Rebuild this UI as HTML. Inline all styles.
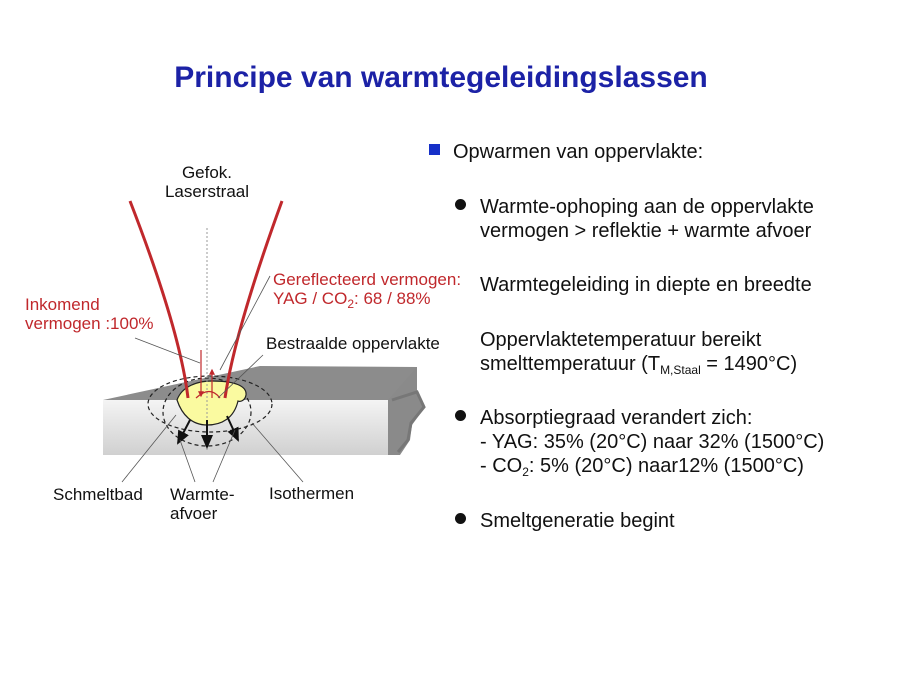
<!DOCTYPE html>
<html><head><meta charset="utf-8"><style>
body{margin:0;width:900px;height:673px;background:#fff;position:relative;overflow:hidden;font-family:"Liberation Sans",Arial,sans-serif}
.t{position:absolute;white-space:nowrap;color:#111}
.r{font-size:20px;line-height:24px}
.s{font-size:17px;line-height:19px}
.red{color:#c0282c}
sub{font-size:12px;vertical-align:-4px;line-height:0}
.dot{position:absolute;width:11px;height:11px;border-radius:50%;background:#111}
</style></head><body>
<div class="t" style="left:0;width:882px;text-align:center;top:61px;font-size:30px;font-weight:bold;color:#1c22a6">Principe van warmtegeleidingslassen</div>

<div style="position:absolute;left:429px;top:144px;width:11px;height:11px;background:#1630c8"></div>
<div class="t r" style="left:453px;top:140px">Opwarmen van oppervlakte:</div>
<div class="dot" style="left:455px;top:199px"></div>
<div class="t r" style="left:480px;top:195px">Warmte-ophoping aan de oppervlakte<br>vermogen &gt; reflektie + warmte afvoer</div>
<div class="t r" style="left:480px;top:273px">Warmtegeleiding in diepte en breedte</div>
<div class="t r" style="left:480px;top:328px">Oppervlaktetemperatuur bereikt<br>smelttemperatuur (T<sub>M,Staal</sub> = 1490°C)</div>
<div class="dot" style="left:455px;top:410px"></div>
<div class="t r" style="left:480px;top:406px">Absorptiegraad verandert zich:<br>- YAG: 35% (20°C) naar 32% (1500°C)<br>- CO<sub>2</sub>: 5% (20°C) naar12% (1500°C)</div>
<div class="dot" style="left:455px;top:513px"></div>
<div class="t r" style="left:480px;top:509px">Smeltgeneratie begint</div>

<svg style="position:absolute;left:0;top:0" width="900" height="673">
<defs>
<linearGradient id="g" x1="0" y1="0" x2="0" y2="1"><stop offset="0" stop-color="#f4f4f4"/><stop offset="1" stop-color="#d0d0d0"/></linearGradient>
<marker id="a" markerWidth="8" markerHeight="8" refX="6" refY="4" orient="auto"><path d="M0,1 L7,4 L0,7z" fill="#111"/></marker>
<marker id="ar" markerWidth="6" markerHeight="6" refX="4" refY="3" orient="auto"><path d="M0,0.5 L5,3 L0,5.5z" fill="#c0282c"/></marker>
</defs>
<polygon points="103,400 260,366 417,367 417,400" fill="#8c8c8c"/>
<polygon points="103,400 388,400 388,455 103,455" fill="url(#g)"/>
<polygon points="388,400 417,367 417,395 425,407 412,425 410,440 400,455 388,455" fill="#8a8a8a"/>
<polyline points="392,400 417,392 424,407 411,423 408,440 398,452" fill="none" stroke="#777" stroke-width="3"/>
<ellipse cx="210" cy="404" rx="62" ry="28" fill="none" stroke="#222" stroke-dasharray="4,3" stroke-width="1.2"/>
<ellipse cx="207" cy="412" rx="44" ry="34" fill="none" stroke="#222" stroke-dasharray="4,3" stroke-width="1.2"/>
<path d="M177,400 C182,386 198,381 212,381 C235,381 247,386 246,395 C245,401 240,402 238,401 C234,418 222,425 207,425 C192,425 182,415 177,400 Z" fill="#fafaa0" stroke="#222" stroke-width="1.2"/>
<line x1="207" y1="228" x2="207" y2="450" stroke="#999" stroke-dasharray="2,2"/>
<path d="M130,201 Q180,330 188,398" fill="none" stroke="#c0282c" stroke-width="3"/>
<path d="M282,201 Q235,330 225,398" fill="none" stroke="#c0282c" stroke-width="3"/>
<line x1="201" y1="350" x2="201" y2="396" stroke="#c0282c" stroke-width="1.2" marker-end="url(#ar)"/>
<line x1="212" y1="398" x2="212" y2="370" stroke="#c0282c" stroke-width="1.2" marker-end="url(#ar)"/>
<path d="M220,398 Q210,385 196,398" fill="none" stroke="#c0282c" stroke-width="1.2"/>
<line x1="190" y1="420" x2="178" y2="443" stroke="#111" stroke-width="2" marker-end="url(#a)"/>
<line x1="207" y1="420" x2="207" y2="447" stroke="#111" stroke-width="2" marker-end="url(#a)"/>
<line x1="227" y1="416" x2="238" y2="440" stroke="#111" stroke-width="2" marker-end="url(#a)"/>
<g stroke="#555" stroke-width="0.8">
<line x1="135" y1="338" x2="200" y2="363"/>
<line x1="270" y1="276" x2="220" y2="370"/>
<line x1="263" y1="355" x2="218" y2="398"/>
<line x1="122" y1="482" x2="176" y2="415"/>
<line x1="195" y1="482" x2="180" y2="440"/>
<line x1="213" y1="482" x2="235" y2="430"/>
<line x1="303" y1="482" x2="252" y2="423"/>
</g>
</svg>
<div class="t s" style="left:155px;top:163px;text-align:center;width:104px">Gefok.<br>Laserstraal</div>
<div class="t s red" style="left:273px;top:270px">Gereflecteerd vermogen:<br>YAG / CO<sub>2</sub>: 68 / 88%</div>
<div class="t s red" style="left:25px;top:295px">Inkomend<br>vermogen :100%</div>
<div class="t s" style="left:266px;top:334px">Bestraalde oppervlakte</div>
<div class="t s" style="left:53px;top:485px">Schmeltbad</div>
<div class="t s" style="left:170px;top:485px">Warmte-<br>afvoer</div>
<div class="t s" style="left:269px;top:484px">Isothermen</div>
</body></html>
